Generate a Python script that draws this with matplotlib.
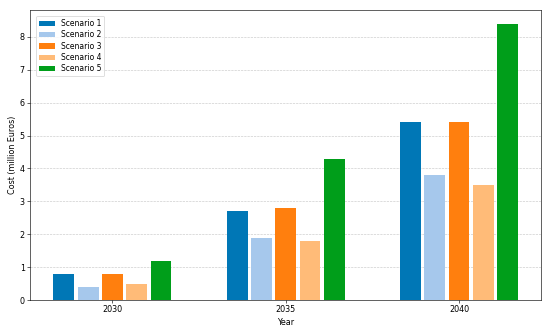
import matplotlib.pyplot as plt
import numpy as np

years = ["2030", "2035", "2040"]
scenarios = ["Scenario 1", "Scenario 2", "Scenario 3", "Scenario 4", "Scenario 5"]
s1 = [0.8, 2.7, 5.4]
s2 = [0.4, 1.9, 3.8]
s3 = [0.8, 2.8, 5.4]
s4 = [0.5, 1.8, 3.5]
s5 = [1.2, 4.3, 8.4]
colors = ["#0077b6", "#a6c8ec", "#ff7f0e", "#ffbb78", "#009e1a"]

values = [s1, s2, s3, s4, s5]
x = np.arange(len(years))
step = 0.14
width = 0.12

# drawn at 1000x596 logical size, saved at dpi 55 -> 550x328
fig, ax = plt.subplots(figsize=(10, 5.964), dpi=55)
for i, (name, vals) in enumerate(zip(scenarios, values)):
    ax.bar(x + (i - 2) * step, vals, width, color=colors[i], label=name, zorder=3)

ax.set_xticks(x)
ax.set_xticklabels(years, fontsize=10.5)
ax.tick_params(axis="y", labelsize=10.5)
ax.set_xlabel("Year", fontsize=10.5)
ax.set_ylabel("Cost (million Euros)", fontsize=10.5)
ax.grid(axis="y", linestyle="--", color="#c8c8c8", linewidth=0.8, zorder=0)
ax.legend(loc="upper left", labelspacing=0.3, borderaxespad=0.8)

plt.subplots_adjust(left=0.055, right=0.984, top=0.97, bottom=0.085)
plt.savefig("out.png", dpi=55)
